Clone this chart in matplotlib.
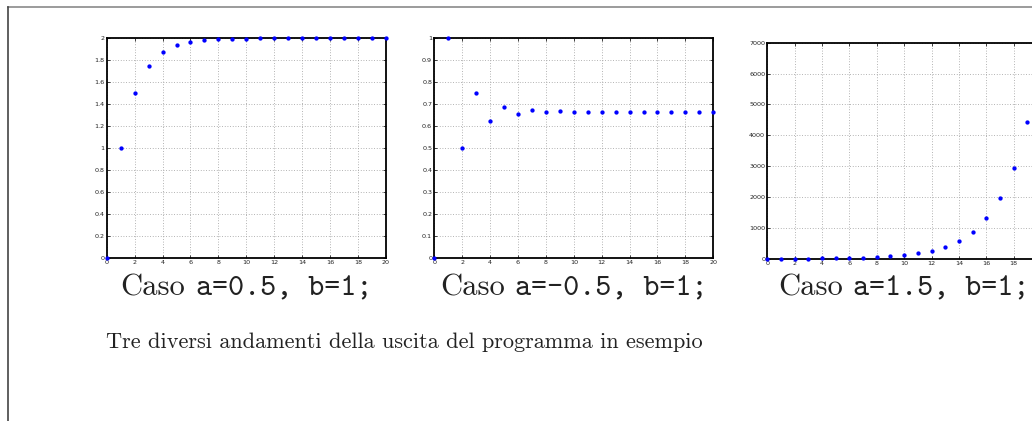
import matplotlib
matplotlib.use('Agg')
import matplotlib.pyplot as plt
from matplotlib.lines import Line2D
from matplotlib.ticker import FormatStrFormatter

W, H = 1032, 421

# dati: y(n) = a*y(n-1) + b, n = 0..20
n = list(range(21))
y_a05 = [0, 1, 1.5, 1.75, 1.875, 1.9375, 1.969, 1.984, 1.992, 1.996, 1.998,
         1.999, 2.0, 2.0, 2.0, 2.0, 2.0, 2.0, 2.0, 2.0, 2.0]
y_am05 = [0, 1, 0.5, 0.75, 0.625, 0.6875, 0.656, 0.672, 0.664, 0.668, 0.666,
          0.667, 0.667, 0.667, 0.667, 0.667, 0.667, 0.667, 0.667, 0.667, 0.667]
y_a15 = [0, 1, 2.5, 4.75, 8.1, 13.2, 20.8, 32.2, 49.3, 74.9, 113, 171, 257,
         387, 581, 873, 1311, 1968, 2953, 4431, 6649]

series = [y_a05, y_am05, y_a15]
case_labels = ['a=0.5, b=1;', 'a=-0.5, b=1;', 'a=1.5, b=1;']
y_limits = [(0, 2), (0, 1), (0, 7000)]
y_steps = [0.2, 0.1, 1000]
x_ticks = list(range(0, 21, 2))
caption = 'Tre diversi andamenti della uscita del programma in esempio'

# riquadri degli assi in pixel: (sinistra, destra, alto, basso)
boxes = [(106.7, 386.0, 38.3, 258.3),
         (434.3, 713.3, 38.3, 258.3),
         (767.3, 1041.0, 42.7, 258.7)]

fig = plt.figure(figsize=(W / 100, H / 100), dpi=100)

for (l, r, t, b), y, ylim, step in zip(boxes, series, y_limits, y_steps):
    ax = fig.add_axes([l / W, 1 - b / H, (r - l) / W, (b - t) / H])
    ax.plot(n, y, linestyle='none', marker='o', markersize=3.1,
            markerfacecolor='#0000ff', markeredgewidth=0, clip_on=False, zorder=5)
    ax.set_xlim(0, 20)
    ax.set_ylim(*ylim)
    ax.set_xticks(x_ticks)
    if r > W:
        # l'ultima etichetta cade fuori dall'immagine
        ax.set_xticklabels([str(v) for v in x_ticks[:-1]] + [''])
    k = int(round((ylim[1] - ylim[0]) / step))
    ax.set_yticks([ylim[0] + i * step for i in range(k + 1)])
    ax.yaxis.set_major_formatter(FormatStrFormatter('%g'))
    ax.tick_params(direction='in', top=True, right=True, length=2.5, width=0.6,
                   labelsize=4.6, pad=1.5, colors='#222222')
    ax.grid(True, color='#9a9a9a', linestyle=(0, (1, 2.2)), linewidth=0.6)
    for s in ax.spines.values():
        s.set_linewidth(1.3)
        s.set_color('black')

# didascalie dei tre casi
renderer = fig.canvas.get_renderer()
fs = 22
base_y = 1 - 295 / H
for (l, r, t, b), lab in zip(boxes, case_labels):
    cx = (l + r) / 2
    t1 = fig.text(0, base_y, 'Caso', family='cmr10', fontsize=fs, va='baseline', color='#222222')
    t2 = fig.text(0, base_y, lab, family='cmtt10', fontsize=fs, va='baseline', color='#222222')
    w1 = t1.get_window_extent(renderer).width
    w2 = t2.get_window_extent(renderer).width
    gap = 0.333 * fs * 100 / 72
    x0 = cx - (w1 + gap + w2) / 2
    t1.set_x(x0 / W)
    t2.set_x((x0 + w1 + gap) / W)

fig.text(106 / W, 1 - 348 / H, caption, family='cmr10', fontsize=16,
         va='baseline', ha='left', color='#222222')

# cornice della pagina
fig.add_artist(Line2D([8 / W, 1], [1 - 7 / H, 1 - 7 / H], color='#8a8a8a', linewidth=1.2))
fig.add_artist(Line2D([8 / W, 8 / W], [0, 1 - 7 / H], color='#444444', linewidth=1.2))

fig.savefig('out.png', dpi=100)
plt.close(fig)
